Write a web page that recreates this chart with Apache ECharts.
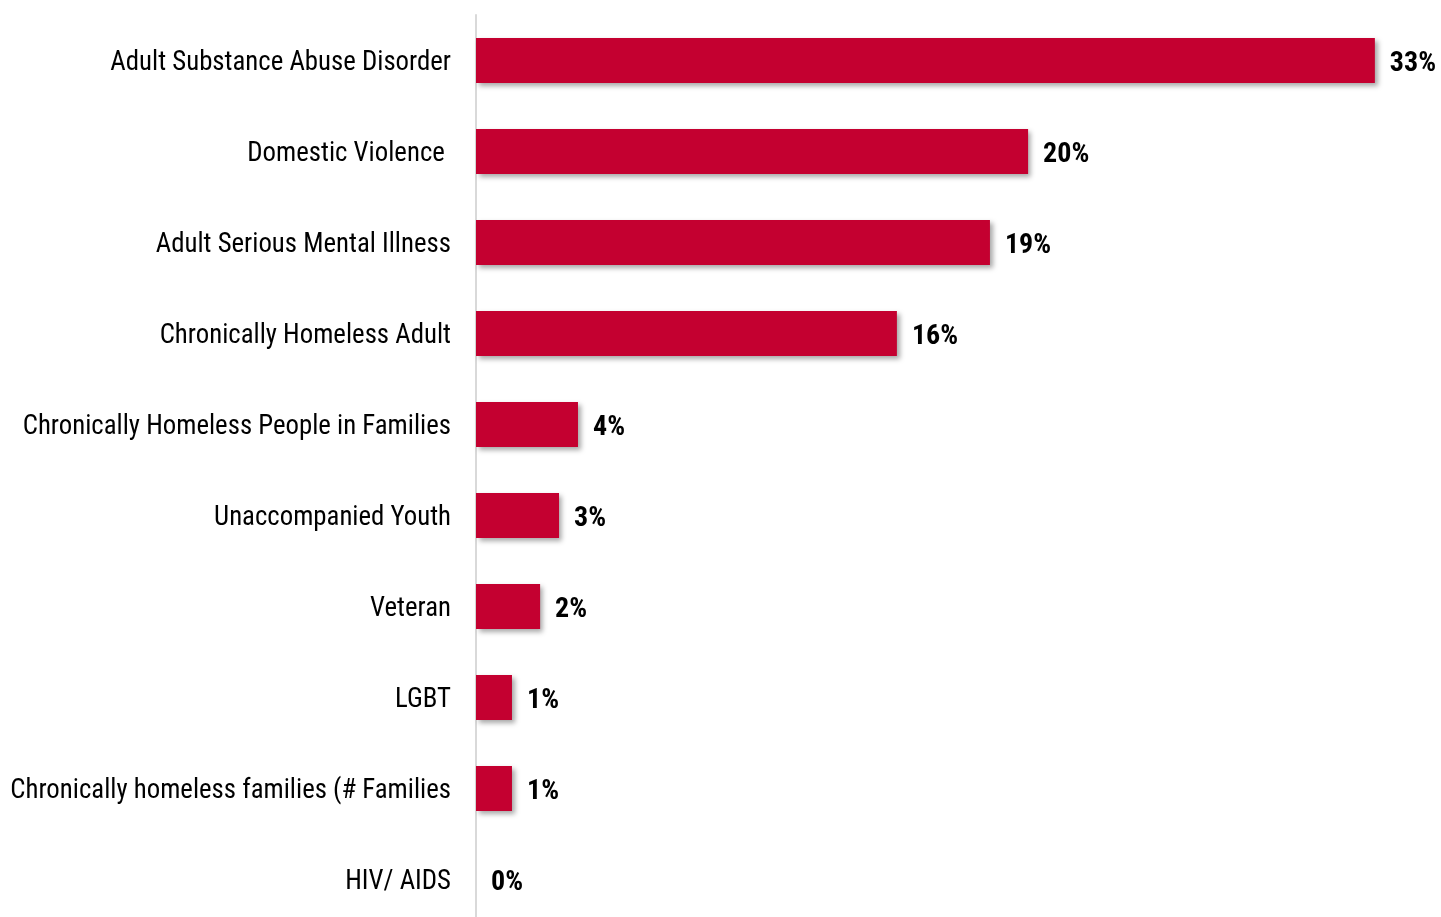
<!DOCTYPE html>
<html>
<head>
<meta charset="utf-8">
<script src="https://cdn.jsdelivr.net/npm/echarts@6/dist/echarts.min.js"></script>
<style>
html,body{margin:0;padding:0;background:#fff;overflow:hidden;}
#chart{width:1441px;height:925px;}
</style>
</head>
<body>
<div id="chart"></div>
<script>
var categories = [
  "Adult Substance Abuse Disorder",
  "Domestic Violence ",
  "Adult Serious Mental Illness",
  "Chronically Homeless Adult",
  "Chronically Homeless People in Families",
  "Unaccompanied Youth",
  "Veteran",
  "LGBT",
  "Chronically homeless families (# Families",
  "HIV/ AIDS"
];
var values = [33.23, 20.41, 19.0, 15.56, 3.77, 3.07, 2.37, 1.33, 1.33, 0];

var FONT = "'Roboto Condensed', 'Liberation Sans Narrow', 'DejaVu Sans Condensed', 'Arial Narrow', sans-serif";
var chart = echarts.init(document.getElementById('chart'));
chart.setOption({
  animation: false,
  grid: { left: 476, width: 919.7, top: 15, bottom: 0, containLabel: false },
  xAxis: {
    type: 'value', min: 0, max: 34,
    show: false
  },
  yAxis: {
    type: 'category',
    data: categories,
    inverse: true,
    axisLine: { show: true, lineStyle: { color: '#d9d9d9', width: 2 } },
    axisTick: { show: false },
    axisLabel: {
      color: '#000', fontSize: 26.8, fontFamily: FONT, margin: 25,
      formatter: function (v) { return '{a|' + v + '}'; },
      rich: { a: { color: '#000', fontSize: 26.8, fontFamily: FONT, padding: [5, 0, 0, 0] } }
    }
  },
  series: [{
    type: 'bar',
    data: values,
    barWidth: 45,
    itemStyle: {
      color: '#C40030',
      shadowColor: 'rgba(0,0,0,0.35)',
      shadowBlur: 5,
      shadowOffsetX: 3,
      shadowOffsetY: 3
    },
    label: {
      show: true,
      position: 'right',
      distance: 15,
      offset: [0, 3],
      color: '#000',
      fontSize: 28,
      fontWeight: 'bold',
      fontFamily: FONT,
      formatter: function (p) { return Math.round(p.value) + '%'; }
    }
  }]
});
</script>
</body>
</html>
